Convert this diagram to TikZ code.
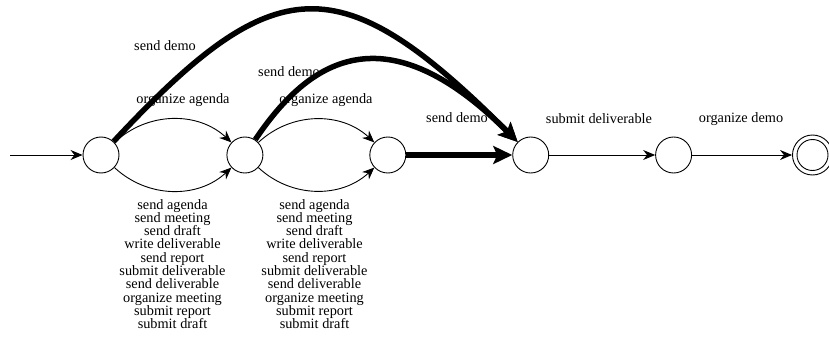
\documentclass[tikz,border=0pt]{standalone}
\usepackage{fontspec}
\setmainfont{Liberation Serif}
\usetikzlibrary{arrows.meta,positioning}

\tikzset{
  state/.style={circle,draw,line width=0.9pt,minimum size=36pt,inner sep=0pt},
  trans/.style={-{Stealth[length=12pt,width=10pt]},line width=0.9pt},
  heavy/.style={-{Stealth[length=19pt,width=18pt,inset=4pt]},line width=5.5pt},
  lbl/.style={font=\fontsize{14.3}{13.3}\selectfont,inner sep=0pt,align=center}
}

\begin{document}
\begin{tikzpicture}[x=1pt,y=-1pt,node distance=106pt]
  \useasboundingbox (0,0) rectangle (829,342);

  % states
  \coordinate (start) at (10,155);
  \node[state] (q0) at (101,155) {};
  \node[state, right=107pt of q0] (q1) {};
  \node[state, right=of q1] (q2) {};
  \node[state, right=of q2] (q3) {};
  \node[state, right=of q3] (q4) {};
  \node[state, minimum size=40pt, right=100pt of q4] (q5) {};
  \draw[line width=0.9pt] (q5) circle (15.5pt);

  % transitions
  \draw[trans] (start) -- (q0);
  \draw[trans] (q0) to[bend left=43] (q1);
  \draw[trans] (q0) to[bend right=43] (q1);
  \draw[trans] (q1) to[bend left=43] (q2);
  \draw[trans] (q1) to[bend right=43] (q2);
  \draw[heavy] (q0) to[out=47,in=135,out looseness=1.5,in looseness=1.6] (q3);
  \draw[heavy] (q1) to[out=56,in=135,out looseness=0.85,in looseness=1.9] (q3);
  \draw[heavy] (q2) -- (q3);
  \draw[trans] (q3) -- (q4);
  \draw[trans] (q4) -- (q5);

  % labels
  \node[lbl] (l01) at (165,46) {send demo};
  \node[lbl] (l02) at (183,100) {organize agenda};
  \node[lbl] (l11) at (289,72) {send demo};
  \node[lbl] (l12) at (326,100) {organize agenda};
  \node[lbl] (l21) at (457,118) {send demo};
  \node[lbl] (l31) at (599,119) {submit deliverable};
  \node[lbl] (l41) at (741,119) {organize demo};
  \foreach \x/\n in {172.5/lo0, 314.5/lo1}
    \node[lbl] (\n) at (\x,264) {send agenda\\send meeting\\send draft\\write deliverable\\send report\\submit deliverable\\send deliverable\\organize meeting\\submit report\\submit draft};
\end{tikzpicture}
\end{document}
